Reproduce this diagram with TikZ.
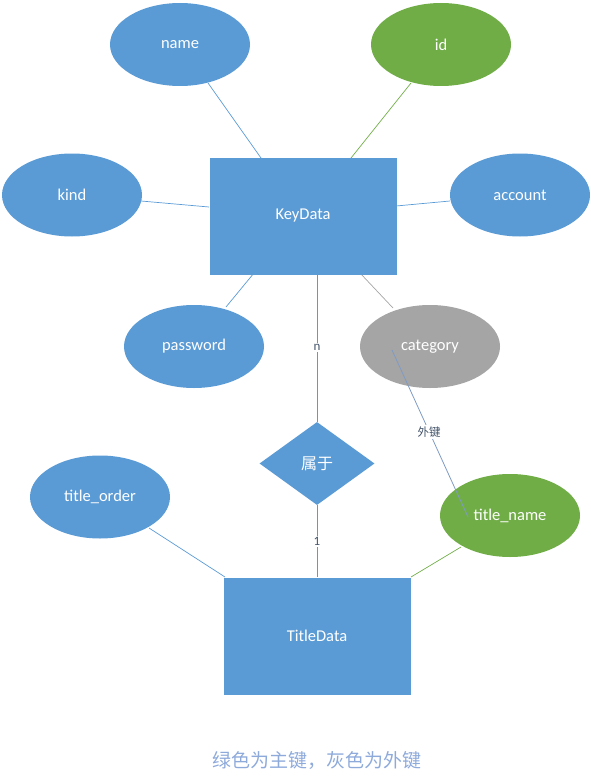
\documentclass[tikz,border=0pt]{standalone}
\usepackage{fontspec}
\setmainfont{Carlito}
\newfontfamily\cjk{Noto Sans CJK SC}
\usetikzlibrary{shapes.geometric}
\definecolor{eblue}{HTML}{5B9BD5}
\definecolor{egreen}{HTML}{70AD47}
\definecolor{egray}{HTML}{A5A5A5}
\definecolor{lblcol}{HTML}{44546A}
\definecolor{caption}{HTML}{8EAADB}
\definecolor{fkline}{HTML}{7F9BC4}
\tikzset{
  attr/.style={ellipse, fill=eblue, draw=none, minimum width=140pt, minimum height=83pt, inner sep=0pt, text=white, font=\fontsize{16.5}{18}\selectfont},
  pk/.style={attr, fill=egreen},
  fk/.style={attr, fill=egray},
  entity/.style={rectangle, fill=eblue, draw=none, minimum width=187pt, minimum height=117pt, inner sep=0pt, text=white, font=\fontsize{16.5}{18}\selectfont},
  rel/.style={diamond, fill=eblue, draw=none, minimum width=115pt, minimum height=83pt, inner sep=0pt, aspect=1.4, text=white, font=\cjk\fontsize{16}{18}\selectfont},
  conn/.style={draw=eblue, line width=0.7pt},
  gconn/.style={draw=egreen, line width=0.7pt},
  grconn/.style={draw=egray, line width=0.7pt},
  fkconn/.style={draw=fkline, line width=0.8pt},
  elabel/.style={fill=white, text=lblcol, inner sep=1.5pt, font=\fontsize{13}{14}\selectfont},
}
\begin{document}
\begin{tikzpicture}[x=1pt,y=-1pt]
\useasboundingbox (0,0) rectangle (591,781);
\coordinate (kdN1) at (261,158);
\coordinate (kdN2) at (351,158);
\coordinate (kdW) at (209,207);
\coordinate (kdE) at (396,206);
\coordinate (kdS1) at (254,273);
\coordinate (kdS2) at (317,273);
\coordinate (kdS3) at (360,273);
\coordinate (nameB) at (208,83);
\coordinate (idB) at (411,83);
\coordinate (kindE) at (141,201);
\coordinate (accW) at (450,201);
\coordinate (pwT) at (226,307);
\coordinate (catT) at (393,308);
\coordinate (tdNW) at (225,577);
\coordinate (tdNE) at (411,577);
\coordinate (toE) at (149,528);
\coordinate (tnW) at (461,547);
\coordinate (catIn) at (392,350);
\coordinate (tnIn) at (468,517);

\draw[conn] (nameB) -- (kdN1);
\draw[gconn] (idB) -- (kdN2);
\draw[conn] (kindE) -- (kdW);
\draw[conn] (accW) -- (kdE);
\draw[conn] (kdS1) -- (pwT);
\draw[grconn] (kdS3) -- (catT);
\draw[conn] (toE) -- (tdNW);
\draw[gconn] (tnW) -- (tdNE);

\node[attr] (name) at (180,44.5) {name};
\node[pk] (id) at (441,44.5) {id};
\node[attr] (kind) at (72,195) {kind};
\node[attr] (account) at (520,195) {account};
\node[entity] (keydata) at (303,216) {KeyData};
\node[attr] (password) at (194,346.5) {password};
\node[fk] (category) at (430,346.5) {category};
\node[rel] (belong) at (317,463.5) {属于};
\node[attr] (titleorder) at (100,497) {title\_order};
\node[pk] (titlename) at (510,515.5) {title\_name};
\node[entity] (titledata) at (317,636) {TitleData};

\draw[conn] (kdS2) -- node[elabel, pos=0.5] {n} (belong.north);
\draw[conn] (belong.south) -- node[elabel] {1} (titledata.north);
\draw[fkconn] (catIn) -- node[elabel, font=\cjk\fontsize{11.5}{12}\selectfont, pos=0.49] {外键} (tnIn);

\node[text=caption, font=\cjk\fontsize{19}{21}\selectfont] (cap) at (317,760) {绿色为主键，灰色为外键};
\end{tikzpicture}
\end{document}
